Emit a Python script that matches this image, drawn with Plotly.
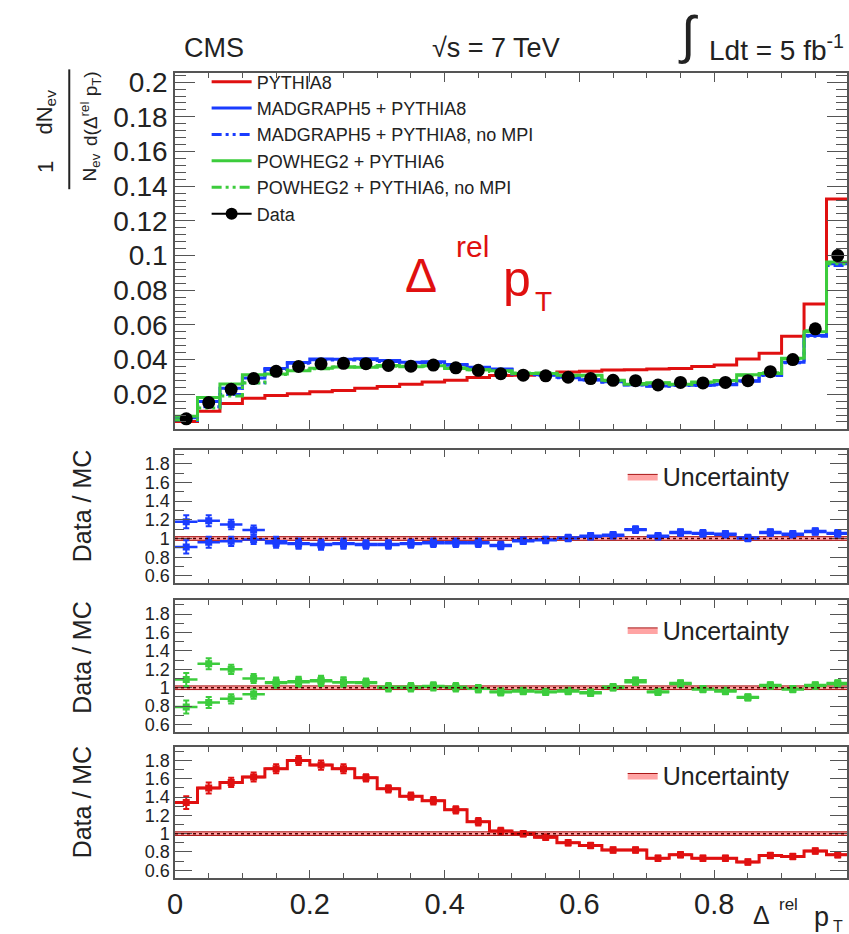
import plotly.graph_objects as go

W, H = 849, 934
N_BINS = 30
X_LO, X_HI = 0.0, 1.0

# ---- main distribution (1/N dN/d(Δrel pT)) ----
data_y = [0.0058, 0.0152, 0.0228, 0.0290, 0.0332, 0.0360, 0.0375, 0.0378, 0.0376, 0.0366,
          0.0362, 0.0368, 0.0352, 0.0338, 0.0318, 0.0310, 0.0306, 0.0298, 0.0290, 0.0280,
          0.0278, 0.0253, 0.0268, 0.0265, 0.0268, 0.0278, 0.0330, 0.0400, 0.0577, 0.1000]
pythia8 = [0.0043, 0.0101, 0.0146, 0.0177, 0.0193, 0.0202, 0.0214, 0.0222, 0.0234, 0.0245,
           0.0257, 0.0270, 0.0280, 0.0297, 0.0308, 0.0310, 0.0318, 0.0328, 0.0333, 0.0339,
           0.0341, 0.0346, 0.0349, 0.0360, 0.0368, 0.0403, 0.0436, 0.0535, 0.0720, 0.1326]
mg5 = [0.0064, 0.0158, 0.0235, 0.0293, 0.0349, 0.0383, 0.0403, 0.0402, 0.0404, 0.0394,
       0.0385, 0.0387, 0.0371, 0.0356, 0.0346, 0.0320, 0.0312, 0.0298, 0.0284, 0.0272,
       0.0255, 0.0248, 0.0253, 0.0252, 0.0258, 0.0278, 0.0311, 0.0385, 0.0539, 0.0952]
mg5_nompi = [0.0049, 0.0128, 0.0198, 0.0266, 0.0342, 0.0379, 0.0399, 0.0398, 0.0400, 0.0389,
             0.0381, 0.0383, 0.0367, 0.0352, 0.0342, 0.0316, 0.0309, 0.0295, 0.0282, 0.0269,
             0.0253, 0.0246, 0.0250, 0.0250, 0.0255, 0.0275, 0.0308, 0.0381, 0.0534, 0.0943]
powheg = [0.0073, 0.0181, 0.0259, 0.0312, 0.0316, 0.0336, 0.0350, 0.0357, 0.0355, 0.0366,
          0.0358, 0.0364, 0.0349, 0.0341, 0.0335, 0.0320, 0.0319, 0.0310, 0.0309, 0.0280,
          0.0257, 0.0266, 0.0258, 0.0270, 0.0279, 0.0312, 0.0320, 0.0408, 0.0560, 0.0962]
powheg_nompi = [0.0053, 0.0121, 0.0190, 0.0264, 0.0313, 0.0340, 0.0347, 0.0357, 0.0358, 0.0362,
                0.0362, 0.0361, 0.0352, 0.0341, 0.0331, 0.0323, 0.0322, 0.0307, 0.0305, 0.0277,
                0.0262, 0.0264, 0.0255, 0.0268, 0.0276, 0.0309, 0.0324, 0.0404, 0.0566, 0.0952]

# ---- ratios Data / MC ----
ratio_mg5 = [0.91, 0.96, 0.97, 0.99, 0.95, 0.94, 0.93, 0.94, 0.93, 0.93,
             0.94, 0.95, 0.95, 0.95, 0.92, 0.97, 0.98, 1.00, 1.02, 1.03,
             1.09, 1.02, 1.06, 1.05, 1.04, 1.00, 1.06, 1.04, 1.07, 1.05]
ratio_mg5_nompi = [1.18, 1.19, 1.15, 1.09, 0.97, 0.95, 0.94, 0.95, 0.94, 0.94,
                   0.95, 0.96, 0.96, 0.96, 0.93, 0.98, 0.99, 1.01, 1.03, 1.04,
                   1.10, 1.03, 1.07, 1.06, 1.05, 1.01, 1.07, 1.05, 1.08, 1.06]
ratio_powheg = [0.79, 0.84, 0.88, 0.93, 1.05, 1.07, 1.07, 1.06, 1.06, 1.00,
                1.01, 1.01, 1.01, 0.99, 0.95, 0.97, 0.96, 0.96, 0.94, 1.00,
                1.08, 0.95, 1.04, 0.98, 0.96, 0.89, 1.03, 0.98, 1.03, 1.04]
ratio_powheg_nompi = [1.09, 1.26, 1.20, 1.10, 1.06, 1.06, 1.08, 1.06, 1.05, 1.01,
                      1.00, 1.02, 1.00, 0.99, 0.96, 0.96, 0.95, 0.97, 0.95, 1.01,
                      1.06, 0.96, 1.05, 0.99, 0.97, 0.90, 1.02, 0.99, 1.02, 1.05]
ratio_pythia8 = [1.34, 1.50, 1.56, 1.62, 1.71, 1.80, 1.75, 1.71, 1.61, 1.49,
                 1.41, 1.36, 1.26, 1.13, 1.03, 1.00, 0.96, 0.90, 0.87, 0.82,
                 0.82, 0.73, 0.77, 0.73, 0.73, 0.69, 0.76, 0.75, 0.81, 0.77]
ratio_err = [0.07, 0.06, 0.05, 0.05, 0.05, 0.05, 0.05, 0.05, 0.04, 0.04,
             0.04, 0.04, 0.04, 0.04, 0.035, 0.03, 0.03, 0.03, 0.03, 0.03,
             0.03, 0.03, 0.03, 0.03, 0.03, 0.03, 0.03, 0.03, 0.03, 0.03]
unc = [0.02, 0.02, 0.02, 0.02, 0.02, 0.02, 0.02, 0.02, 0.02, 0.02,
       0.02, 0.02, 0.02, 0.02, 0.02, 0.02, 0.02, 0.02, 0.02, 0.02,
       0.02, 0.02, 0.02, 0.02, 0.02, 0.02, 0.02, 0.02, 0.02, 0.02]

main_ticks = [0.02, 0.04, 0.06, 0.08, 0.1, 0.12, 0.14, 0.16, 0.18, 0.2]
main_ticktext = ["0.02", "0.04", "0.06", "0.08", "0.1", "0.12", "0.14", "0.16", "0.18", "0.2"]
ratio_ticks = [0.6, 0.8, 1.0, 1.2, 1.4, 1.6, 1.8]
ratio_ticktext = ["0.6", "0.8", "1", "1.2", "1.4", "1.6", "1.8"]
x_ticks = [0.0, 0.2, 0.4, 0.6, 0.8]
x_ticktext = ["0", "0.2", "0.4", "0.6", "0.8"]

RED = "#e01010"
BLUE = "#1a3cff"
GREEN = "#3ccc3c"
FONT = "Liberation Sans, Arial, sans-serif"

bw = (X_HI - X_LO) / N_BINS
edges = [X_LO + i * bw for i in range(N_BINS + 1)]
centers = [X_LO + (i + 0.5) * bw for i in range(N_BINS)]


def step(vals):
    return edges, list(vals) + [vals[-1]]


def P(px, py):
    return px / W, 1 - py / H


fig = go.Figure()

# ---------------- main panel ----------------
DASHDOT = "10px,4px,3px,4px,3px,4px"
main_series = [
    ("PYTHIA8", pythia8, RED, "solid"),
    ("MADGRAPH5 + PYTHIA8", mg5, BLUE, "solid"),
    ("MADGRAPH5 + PYTHIA8, no MPI", mg5_nompi, BLUE, DASHDOT),
    ("POWHEG2 + PYTHIA6", powheg, GREEN, "solid"),
    ("POWHEG2 + PYTHIA6, no MPI", powheg_nompi, GREEN, DASHDOT),
]
for name, vals, col, dash in main_series:
    sx, sy = step(vals)
    fig.add_trace(go.Scatter(x=sx, y=sy, mode="lines", line_shape="hv", name=name,
                             line=dict(color=col, width=3, dash=dash),
                             xaxis="x", yaxis="y", legend="legend"))
fig.add_trace(go.Scatter(x=centers, y=data_y, mode="markers", name="Data", showlegend=False,
                         marker=dict(color="black", size=13, symbol="circle"),
                         xaxis="x", yaxis="y"))
fig.add_trace(go.Scatter(x=[None], y=[None], mode="lines+markers", name="Data",
                         line=dict(color="black", width=2),
                         marker=dict(color="black", size=12), xaxis="x", yaxis="y",
                         legend="legend"))

# ---------------- ratio panels ----------------
band_x = [e for i in range(N_BINS) for e in (edges[i], edges[i + 1])]
band_top = [1 + u for u in unc for _ in (0, 1)]
band_bot = [1 - u for u in unc for _ in (0, 1)]
poly_x = band_x + band_x[::-1]
poly_y = band_top + band_bot[::-1]

panels = [
    ("x2", "y2", "legend2", [(ratio_mg5, BLUE, False), (ratio_mg5_nompi, BLUE, False)]),
    ("x3", "y3", "legend3", [(ratio_powheg, GREEN, False), (ratio_powheg_nompi, GREEN, False)]),
    ("x4", "y4", "legend4", [(ratio_pythia8, RED, True)]),
]
for xa, ya, lg, series in panels:
    fig.add_trace(go.Scatter(x=poly_x, y=poly_y, fill="toself", mode="lines",
                             fillcolor="rgba(255,90,90,0.55)",
                             line=dict(color="rgba(160,0,0,0.9)", width=1),
                             name="Uncertainty", xaxis=xa, yaxis=ya, legend=lg))
    for vals, col, stepline in series:
        if stepline:
            sx, sy = step(vals)
            fig.add_trace(go.Scatter(x=sx, y=sy, mode="lines", line_shape="hv",
                                     line=dict(color=col, width=3), showlegend=False,
                                     xaxis=xa, yaxis=ya))
        fig.add_trace(go.Scatter(
            x=centers, y=vals, mode="markers", showlegend=False,
            marker=dict(symbol="square", size=7, color=col),
            error_y=dict(type="data", array=ratio_err, color=col, thickness=2, width=3),
            error_x=dict(type="constant", value=bw / 2, color=col, thickness=2.5, width=0),
            xaxis=xa, yaxis=ya))

# ---------------- axes ----------------
XDOM = [169 / W, 1.0]
XRANGE = [X_LO, X_LO + (W - 169) / 682.0]
FRAME = "#555555"


def xax(anchor, labels=False, ticklen=9):
    return dict(domain=XDOM, range=XRANGE, anchor=anchor, showgrid=False, zeroline=False,
                showline=True, linecolor=FRAME, linewidth=1.5, mirror="allticks",
                ticks="inside", ticklen=ticklen, tickwidth=1.2, tickcolor=FRAME,
                tickmode="array", tickvals=x_ticks, ticktext=x_ticktext,
                showticklabels=labels,
                minor=dict(tickmode="linear", tick0=0, dtick=0.05, ticks="inside",
                           ticklen=5, tickwidth=1.2, tickcolor=FRAME),
                tickfont=dict(family=FONT, size=29, color="#222"))


def yax(dom, rng, tv, tt, mdt, tl, mtl, fs, anchor):
    return dict(domain=dom, range=rng, anchor=anchor, showgrid=False, zeroline=False,
                showline=True, linecolor=FRAME, linewidth=1.5, mirror="allticks",
                ticks="inside", ticklen=tl, tickwidth=1.2, tickcolor=FRAME,
                tickmode="array", tickvals=tv, ticktext=tt,
                minor=dict(tickmode="linear", tick0=0, dtick=mdt, ticks="inside",
                           ticklen=mtl, tickwidth=1.2, tickcolor=FRAME),
                tickfont=dict(family=FONT, size=fs, color="#222"))


RR = [0.52, 1.95]
layout = dict(
    width=W, height=H, margin=dict(l=0, r=0, t=0, b=0),
    paper_bgcolor="white", plot_bgcolor="white",
    font=dict(family=FONT, color="#222"),
    xaxis=xax("y"), xaxis2=xax("y2", ticklen=8), xaxis3=xax("y3", ticklen=8),
    xaxis4=xax("y4", labels=True, ticklen=8),
    yaxis=yax([1 - 427 / H, 1 - 68 / H], [0, 0.2051], main_ticks, main_ticktext, 0.004, 20, 11, 28, "x"),
    yaxis2=yax([1 - 583 / H, 1 - 448 / H], RR, ratio_ticks, ratio_ticktext, 0.1, 17, 9, 18, "x2"),
    yaxis3=yax([1 - 733 / H, 1 - 600 / H], RR, ratio_ticks, ratio_ticktext, 0.1, 17, 9, 18, "x3"),
    yaxis4=yax([1 - 880 / H, 1 - 748 / H], RR, ratio_ticks, ratio_ticktext, 0.1, 17, 9, 18, "x4"),
    showlegend=True,
)
lx, ly = P(201, 58)
layout["legend"] = dict(x=lx, y=ly, xanchor="left", yanchor="top", bgcolor="rgba(0,0,0,0)",
                        font=dict(family=FONT, size=18, color="#222"), tracegroupgap=0,
                        traceorder="normal", itemwidth=40)
for name, py in (("legend2", 452), ("legend3", 607), ("legend4", 754)):
    ux, uy = P(622, py)
    layout[name] = dict(x=ux, y=uy, xanchor="left", yanchor="top", bgcolor="rgba(0,0,0,0)",
                        font=dict(family=FONT, size=25, color="#222"), itemwidth=30)
fig.update_layout(**layout)

# ---------------- text ----------------
ann = []


def text(px, py, s, size, color="#222", angle=0, xanchor="center", yanchor="middle"):
    x, y = P(px, py)
    ann.append(dict(x=x, y=y, xref="paper", yref="paper", text=s, showarrow=False,
                    font=dict(family=FONT, size=size, color=color), textangle=angle,
                    xanchor=xanchor, yanchor=yanchor))


text(208, 42, "CMS", 27)
text(494, 42, "√s = 7 TeV", 27)
text(688, 30, "∫", 52)
text(707, 42, "Ldt = 5 fb<sup>-1</sup>", 28, xanchor="left")

# physics label in main panel
text(418, 272, "Δ", 48, RED)
text(470, 243, "rel", 30, RED)
text(515, 276, "p", 50, RED)
text(542, 298, "T", 28, RED)

# x-axis title
text(762, 918, "Δ", 25)
text(790, 907, "rel", 17)
text(823, 920, "p", 27)
text(840, 929, "T", 16)

# main y title (fraction, rotated)
text(38, 163, "1", 22, angle=-90)
text(38, 107, "dN<sub>ev</sub>", 22, angle=-90)
text(84, 163, "N<sub>ev</sub>", 19, angle=-90)
text(84, 104, "d(Δ<sup>rel</sup> p<sub>T</sub>)", 19, angle=-90)

# ratio y titles
for cy in (505, 658, 804):
    text(75, cy, "Data / MC", 25, angle=-90)

fig.update_layout(annotations=ann)

shapes = [dict(type="line", xref="paper", yref="paper",
               x0=62 / W, x1=62 / W, y0=1 - 185 / H, y1=1 - 64 / H,
               line=dict(color="#222", width=2))]
for xa, ya in (("x2", "y2"), ("x3", "y3"), ("x4", "y4")):
    shapes.append(dict(type="line", xref=xa, yref=ya, x0=X_LO, x1=X_HI, y0=1, y1=1,
                       line=dict(color="#500000", width=1.5, dash="dot"), layer="above"))
fig.update_layout(shapes=shapes)

fig.write_html("out.html")
